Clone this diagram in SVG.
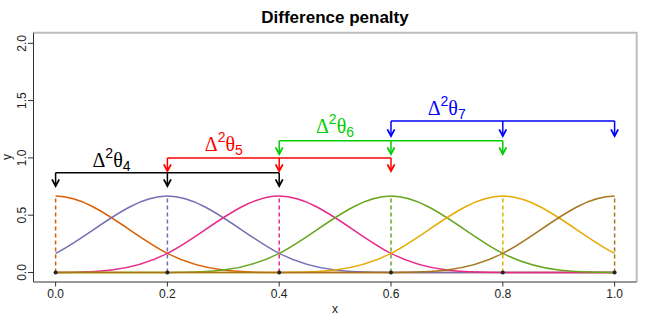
<svg xmlns="http://www.w3.org/2000/svg" width="654" height="324" viewBox="0 0 654 324">
<style>
text{font-family:"Liberation Sans",Arial,sans-serif;}
.title{font-size:17px;font-weight:bold;fill:#000;}
.tick{font-size:12px;fill:#222;}
.g{font-family:"Liberation Serif","Times New Roman",serif;font-size:20px;}
.s{font-family:"Liberation Sans",Arial,sans-serif;font-size:14px;}
.curve{fill:none;stroke-width:1.5;}
.dash{fill:none;stroke-width:1.5;stroke-dasharray:4 3;}
.ax{stroke:#333;stroke-width:1;fill:none;}
.frame{stroke:#BEBEBE;stroke-width:2;fill:none;}
.br{fill:none;stroke-width:1.5;}
</style>
<defs>
<marker id="ak" markerUnits="userSpaceOnUse" markerWidth="12" markerHeight="12" refX="0" refY="0" viewBox="-7 -5 9 10" orient="auto"><path d="M-5.5,-3 L0,0 L-5.5,3" fill="none" stroke="#000" stroke-width="1.5"/></marker>
<marker id="ar" markerUnits="userSpaceOnUse" markerWidth="12" markerHeight="12" refX="0" refY="0" viewBox="-7 -5 9 10" orient="auto"><path d="M-5.5,-3 L0,0 L-5.5,3" fill="none" stroke="#FF0000" stroke-width="1.5"/></marker>
<marker id="ag" markerUnits="userSpaceOnUse" markerWidth="12" markerHeight="12" refX="0" refY="0" viewBox="-7 -5 9 10" orient="auto"><path d="M-5.5,-3 L0,0 L-5.5,3" fill="none" stroke="#00CD00" stroke-width="1.5"/></marker>
<marker id="ab" markerUnits="userSpaceOnUse" markerWidth="12" markerHeight="12" refX="0" refY="0" viewBox="-7 -5 9 10" orient="auto"><path d="M-5.5,-3 L0,0 L-5.5,3" fill="none" stroke="#0000FF" stroke-width="1.5"/></marker>
</defs>
<rect width="654" height="324" fill="#fff"/>
<text class="title" x="335" y="23" text-anchor="middle">Difference penalty</text>
<g id="axes">
<path class="frame" d="M33.5,32.7 H636.7 V282"/>
<path class="ax" d="M33.5,32.7 V282 H636.7"/>
<path class="ax" d="M28,272.5 H33.5 M28,215.2 H33.5 M28,157.9 H33.5 M28,100.6 H33.5 M28,43.3 H33.5"/>
<path class="ax" d="M55.6,282 V286.5 M167.4,282 V286.5 M279.2,282 V286.5 M391,282 V286.5 M502.8,282 V286.5 M614.6,282 V286.5"/>
<g class="tick" text-anchor="middle">
<text x="55.6" y="298">0.0</text>
<text x="167.4" y="298">0.2</text>
<text x="279.2" y="298">0.4</text>
<text x="391" y="298">0.6</text>
<text x="502.8" y="298">0.8</text>
<text x="614.6" y="298">1.0</text>
<text transform="translate(26,272.5) rotate(-90)">0.0</text>
<text transform="translate(26,215.2) rotate(-90)">0.5</text>
<text transform="translate(26,157.9) rotate(-90)">1.0</text>
<text transform="translate(26,100.6) rotate(-90)">1.5</text>
<text transform="translate(26,43.3) rotate(-90)">2.0</text>
<text x="335" y="313">x</text>
<text transform="translate(10.5,157) rotate(-90)">y</text>
</g>
</g>
<g id="curves">
<path id="b0" class="curve" stroke="#D95F02" d="M55.6,196.1 C92.87,196.1 130.13,234.3 167.4,253.4 C204.67,272.5 241.93,272.5 279.2,272.5 L614.6,272.5"/>
<path id="b1" class="curve" stroke="#7570B3" d="M55.6,253.4 C92.87,234.3 130.13,196.1 167.4,196.1 C204.67,196.1 241.93,234.3 279.2,253.4 C316.47,272.5 353.73,272.5 391,272.5 L614.6,272.5"/>
<path id="b2" class="curve" stroke="#E7298A" d="M55.6,272.5 C92.87,272.5 130.13,272.5 167.4,253.4 C204.67,234.3 241.93,196.1 279.2,196.1 C316.47,196.1 353.73,234.3 391,253.4 C428.27,272.5 465.53,272.5 502.8,272.5 L614.6,272.5"/>
<path id="b3" class="curve" stroke="#66A61E" d="M55.6,272.5 L167.4,272.5 C204.67,272.5 241.93,272.5 279.2,253.4 C316.47,234.3 353.73,196.1 391,196.1 C428.27,196.1 465.53,234.3 502.8,253.4 C540.07,272.5 577.33,272.5 614.6,272.5"/>
<path id="b4" class="curve" stroke="#E6AB02" d="M55.6,272.5 L279.2,272.5 C316.47,272.5 353.73,272.5 391,253.4 C428.27,234.3 465.53,196.1 502.8,196.1 C540.07,196.1 577.33,234.3 614.6,253.4"/>
<path id="b5" class="curve" stroke="#A6761D" d="M55.6,272.5 L391,272.5 C428.27,272.5 465.53,272.5 502.8,253.4 C540.07,234.3 577.33,196.1 614.6,196.1"/>
</g>
<g id="knots">
<line class="dash" stroke="#D95F02" x1="55.6" y1="272.5" x2="55.6" y2="196.1"/>
<line class="dash" stroke="#7570B3" x1="167.4" y1="272.5" x2="167.4" y2="196.1"/>
<line class="dash" stroke="#E7298A" x1="279.2" y1="272.5" x2="279.2" y2="196.1"/>
<line class="dash" stroke="#66A61E" x1="391" y1="272.5" x2="391" y2="196.1"/>
<line class="dash" stroke="#E6AB02" x1="502.8" y1="272.5" x2="502.8" y2="196.1"/>
<line class="dash" stroke="#A6761D" x1="614.6" y1="272.5" x2="614.6" y2="196.1"/>
<g fill="#222">
<circle cx="55.6" cy="272.5" r="2"/>
<circle cx="167.4" cy="272.5" r="2"/>
<circle cx="279.2" cy="272.5" r="2"/>
<circle cx="391" cy="272.5" r="2"/>
<circle cx="502.8" cy="272.5" r="2"/>
<circle cx="614.6" cy="272.5" r="2"/>
</g>
</g>
<g id="connectors">
<g id="bracket4" stroke="#000">
<path class="br" d="M55.6,172.7 H279.2"/>
<path class="br" marker-end="url(#ak)" d="M55.6,172.7 V186"/>
<path class="br" marker-end="url(#ak)" d="M167.4,172.7 V186"/>
<path class="br" marker-end="url(#ak)" d="M279.2,172.7 V186"/>
</g>
<g id="bracket5" stroke="#FF0000">
<path class="br" d="M167.4,158 H391"/>
<path class="br" marker-end="url(#ar)" d="M167.4,158 V171"/>
<path class="br" marker-end="url(#ar)" d="M279.2,158 V171"/>
<path class="br" marker-end="url(#ar)" d="M391,158 V171"/>
</g>
<g id="bracket6" stroke="#00CD00">
<path class="br" d="M279.2,140.7 H502.8"/>
<path class="br" marker-end="url(#ag)" d="M279.2,140.7 V154"/>
<path class="br" marker-end="url(#ag)" d="M391,140.7 V154"/>
<path class="br" marker-end="url(#ag)" d="M502.8,140.7 V154"/>
</g>
<g id="bracket7" stroke="#0000FF">
<path class="br" d="M391,121 H614.6"/>
<path class="br" marker-end="url(#ab)" d="M391,121 V136"/>
<path class="br" marker-end="url(#ab)" d="M502.8,121 V136"/>
<path class="br" marker-end="url(#ab)" d="M614.6,121 V136"/>
</g>
</g>
<g id="labels" text-anchor="middle">
<text id="l4" x="111.5" y="167.3" fill="#000"><tspan class="g">Δ</tspan><tspan class="s" dy="-9">2</tspan><tspan class="g" dy="9">θ</tspan><tspan class="s" dy="4">4</tspan></text>
<text id="l5" x="223.8" y="151" fill="#FF0000"><tspan class="g">Δ</tspan><tspan class="s" dy="-9">2</tspan><tspan class="g" dy="9">θ</tspan><tspan class="s" dy="4">5</tspan></text>
<text id="l6" x="335" y="132.5" fill="#00CD00"><tspan class="g">Δ</tspan><tspan class="s" dy="-9">2</tspan><tspan class="g" dy="9">θ</tspan><tspan class="s" dy="4">6</tspan></text>
<text id="l7" x="446.7" y="115" fill="#0000FF"><tspan class="g">Δ</tspan><tspan class="s" dy="-9">2</tspan><tspan class="g" dy="9">θ</tspan><tspan class="s" dy="4">7</tspan></text>
</g>
</svg>
